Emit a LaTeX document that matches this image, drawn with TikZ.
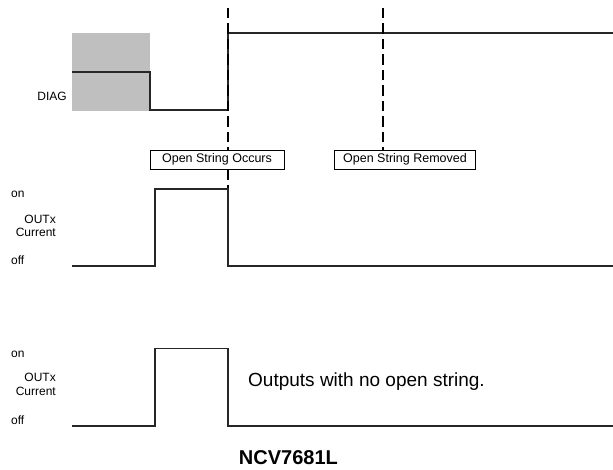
\documentclass[tikz,border=0pt]{standalone}
\usepackage{fontspec}
\setmainfont{Liberation Sans}
\usetikzlibrary{positioning}
\tikzset{
    >=stealth,
    font=\fontsize{12}{13}\selectfont,
    signal/.style={line width=1.1pt, black!85},
    marker/.style={line width=1.7pt, dash pattern=on 10.5pt off 5pt},
    event box/.style={draw, fill=white, line width=0.9pt, minimum height=19pt, inner sep=0pt, font=\fontsize{12.5}{13}\selectfont},
    level/.style={anchor=west, inner sep=0pt},
    trace name/.style={anchor=east, align=right, inner sep=0pt, font=\fontsize{12}{13.5}\selectfont}
}

\begin{document}
\begin{tikzpicture}[x=1pt, y=-1pt]
    \useasboundingbox (0,0) rectangle (613,470);
    % DIAG trace
    \fill[black!25] (72,33) rectangle (150,111);
    \draw[signal] (72,72) -- (150,72) -- (150,110) -- (228,110) -- (228,33) -- (613,33);
    \node[trace name] (diag) at (67,96.5) {DIAG};
    % event boxes
    \node[event box, minimum width=134pt] (occurs) at (217,159.5) {Open String Occurs};
    \node[event box, minimum width=141pt] (removed) at (405,159.5) {Open String Removed};
    \coordinate (occTop) at (228,8);
    \coordinate (occEnd) at (228,189);
    \coordinate (remTop) at (383,8);
    \draw[marker] (occTop) -- (occurs.north -| occTop);
    \draw[marker] (occurs.south -| occTop) -- (occEnd);
    \draw[marker] (remTop) -- (removed.north -| remTop);
    % OUTx current, open string
    \draw[signal] (72,266) -- (155,266) -- (155,189) -- (228,189) -- (228,266) -- (613,266);
    \node[level] (on1) at (11,194) {on};
    \node[trace name] (out1) at (56,225.7) {OUTx\\Current};
    \node[level] (off1) at (11,260.7) {off};
    % OUTx current, no open string
    \draw[signal] (72,426) -- (155,426) -- (155,348.5) -- (228,348.5) -- (228,426) -- (613,426);
    \node[level] (on2) at (11,354) {on};
    \node[trace name] (out2) at (56,384.5) {OUTx\\Current};
    \node[level] (off2) at (11,420.7) {off};
    \node[level, font=\fontsize{19}{20}\selectfont] (note) at (248,381.7) {Outputs with no open string.};
    \node[font=\fontsize{20}{21}\selectfont\bfseries, inner sep=0pt] (part) at (288.4,458) {NCV7681L};
\end{tikzpicture}
\end{document}
